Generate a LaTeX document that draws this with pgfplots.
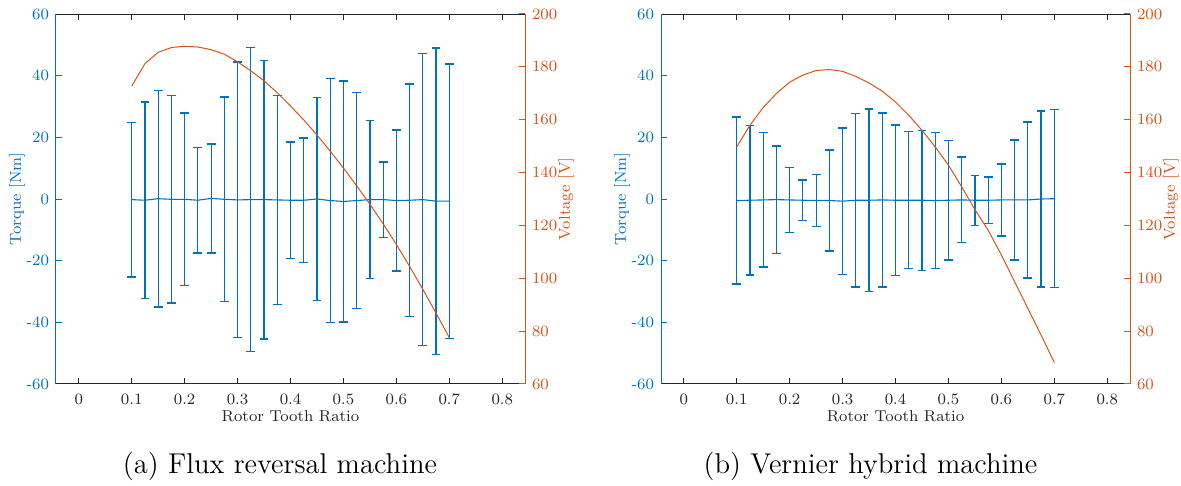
\documentclass[border=0pt]{standalone}
\usepackage{pgfplots}
\pgfplotsset{compat=1.18}
\usepackage{pgfplotstable}
\definecolor{mblue}{rgb}{0,0.447,0.741}
\definecolor{morange}{rgb}{0.85,0.325,0.098}
\definecolor{mgray}{rgb}{0.15,0.15,0.15}

\pgfplotstableread{
x y e
0.1 -0.2 25.1
0.125 -0.4 31.9
0.15 0.1 35.1
0.175 -0.1 33.6
0.2 -0.1 28.0
0.225 -0.4 17.1
0.25 0.2 17.7
0.275 -0.1 33.2
0.3 -0.3 44.7
0.325 -0.2 49.3
0.35 -0.2 45.2
0.375 -0.3 33.9
0.4 -0.4 18.9
0.425 -0.4 20.2
0.45 0.0 32.9
0.475 -0.5 39.6
0.5 -0.8 39.1
0.525 -0.5 35.0
0.55 -0.2 25.6
0.575 -0.2 12.2
0.6 -0.5 22.9
0.625 -0.4 37.7
0.65 -0.2 47.4
0.675 -0.7 49.7
0.7 -0.7 44.5
}\torqueA

\pgfplotstableread{
x v
0.1 172.7
0.125 181.2
0.15 185.5
0.175 187.3
0.2 187.8
0.225 187.5
0.25 186.5
0.275 184.8
0.3 181.9
0.325 178.5
0.35 174.7
0.375 170.2
0.4 165.2
0.425 159.9
0.45 154.2
0.475 148.1
0.5 141.7
0.525 135.0
0.55 128.0
0.575 120.6
0.6 112.8
0.625 104.5
0.65 95.8
0.675 86.8
0.7 77.5
}\voltA

\pgfplotstableread{
x y e
0.1 -0.5 27.1
0.125 -0.4 24.2
0.15 -0.3 21.8
0.175 -0.2 17.4
0.2 -0.3 10.6
0.225 -0.4 6.6
0.25 -0.5 8.5
0.275 -0.5 16.4
0.3 -0.7 23.7
0.325 -0.4 28.1
0.35 -0.4 29.6
0.375 -0.3 28.2
0.4 -0.4 24.4
0.425 -0.4 22.2
0.45 -0.4 22.7
0.475 -0.5 22.1
0.5 -0.4 19.4
0.525 -0.3 13.9
0.55 -0.4 8.1
0.575 -0.4 7.5
0.6 -0.3 11.7
0.625 -0.3 19.5
0.65 -0.3 25.3
0.675 0.0 28.5
0.7 0.1 28.9
}\torqueB

\pgfplotstableread{
x v
0.1 149.7
0.125 157.9
0.15 164.6
0.175 169.9
0.2 174.2
0.225 176.9
0.25 178.6
0.275 179.0
0.3 178.3
0.325 176.4
0.35 173.9
0.375 170.8
0.4 166.7
0.425 161.7
0.45 156.0
0.475 149.7
0.5 142.8
0.525 134.6
0.55 126.0
0.575 118.2
0.6 108.8
0.625 98.7
0.65 88.6
0.675 78.5
0.7 68.1
}\voltB

\pgfplotsset{
  common/.style={
    scale only axis, width=234.5pt, height=185pt,
    xmin=-0.043, xmax=0.843,
    tick align=inside, major tick length=3pt,
    font=\fontsize{7.9}{9}\selectfont,
    axis line style={line width=0.5pt},
    every tick/.append style={line width=0.5pt},
  },
  torqueaxis/.style={
    common,
    axis x line*=box, axis y line*=left,
    ymin=-60, ymax=60,
    ytick={-60,-40,-20,0,20,40,60},
    yticklabels={-60,-40,-20,0,20,40,60},
    xtick={0,0.1,0.2,0.3,0.4,0.5,0.6,0.7,0.8},
    xticklabels={0,0.1,0.2,0.3,0.4,0.5,0.6,0.7,0.8},
    xticklabel pos=lower,
    x axis line style={mgray},
    y axis line style={mblue},
    x tick style={mgray},
    y tick style={mblue},
    yticklabel style={mblue},
    xticklabel style={mgray, yshift=-1.5pt},
    ylabel={Torque [Nm]},
    every axis y label/.style={at={(axis description cs:-0.0832,0.5)}, anchor=center, rotate=90, color=mblue},
    xlabel={Rotor Tooth Ratio},
    every axis x label/.style={at={(axis description cs:0.5,-0.088)}, anchor=center, color=mgray},
  },
  voltaxis/.style={
    common,
    axis x line=none, axis y line*=right,
    ymin=60, ymax=200,
    ytick={60,80,100,120,140,160,180,200},
    yticklabels={60,80,100,120,140,160,180,200},
    y axis line style={morange},
    y tick style={morange},
    yticklabel style={morange},
    ylabel={Voltage [V]},
    every axis y label/.style={at={(axis description cs:1.0874,0.5)}, anchor=center, rotate=90, color=morange},
  },
  ebar/.style={mblue, line width=0.55pt, mark=none,
    error bars/.cd, y dir=both, y explicit,
    error bar style={mblue, line width=0.6pt},
    error mark options={rotate=90, mblue, mark size=2.2pt, line width=0.7pt}},
}

\begin{document}
\begin{tikzpicture}
\useasboundingbox (0,0) rectangle (590.5pt,243pt);
% panel (a)
\begin{axis}[torqueaxis, at={(28pt,51pt)}, anchor=south west]
\addplot[ebar] table[x=x, y=y, y error=e] {\torqueA};
\end{axis}
\begin{axis}[voltaxis, at={(28pt,51pt)}, anchor=south west]
\addplot[morange, line width=0.5pt, mark=none] table[x=x, y=v] {\voltA};
\end{axis}
% panel (b)
\begin{axis}[torqueaxis, at={(330.5pt,51pt)}, anchor=south west]
\addplot[ebar] table[x=x, y=y, y error=e] {\torqueB};
\end{axis}
\begin{axis}[voltaxis, at={(330.5pt,51pt)}, anchor=south west]
\addplot[morange, line width=0.5pt, mark=none] table[x=x, y=v] {\voltB};
\end{axis}
\node[font=\fontsize{14.3}{17}\selectfont] at (140pt,10pt) {(a) Flux reversal machine};
\node[font=\fontsize{14.3}{17}\selectfont] at (435.25pt,10pt) {(b) Vernier hybrid machine};
\end{tikzpicture}
\end{document}
